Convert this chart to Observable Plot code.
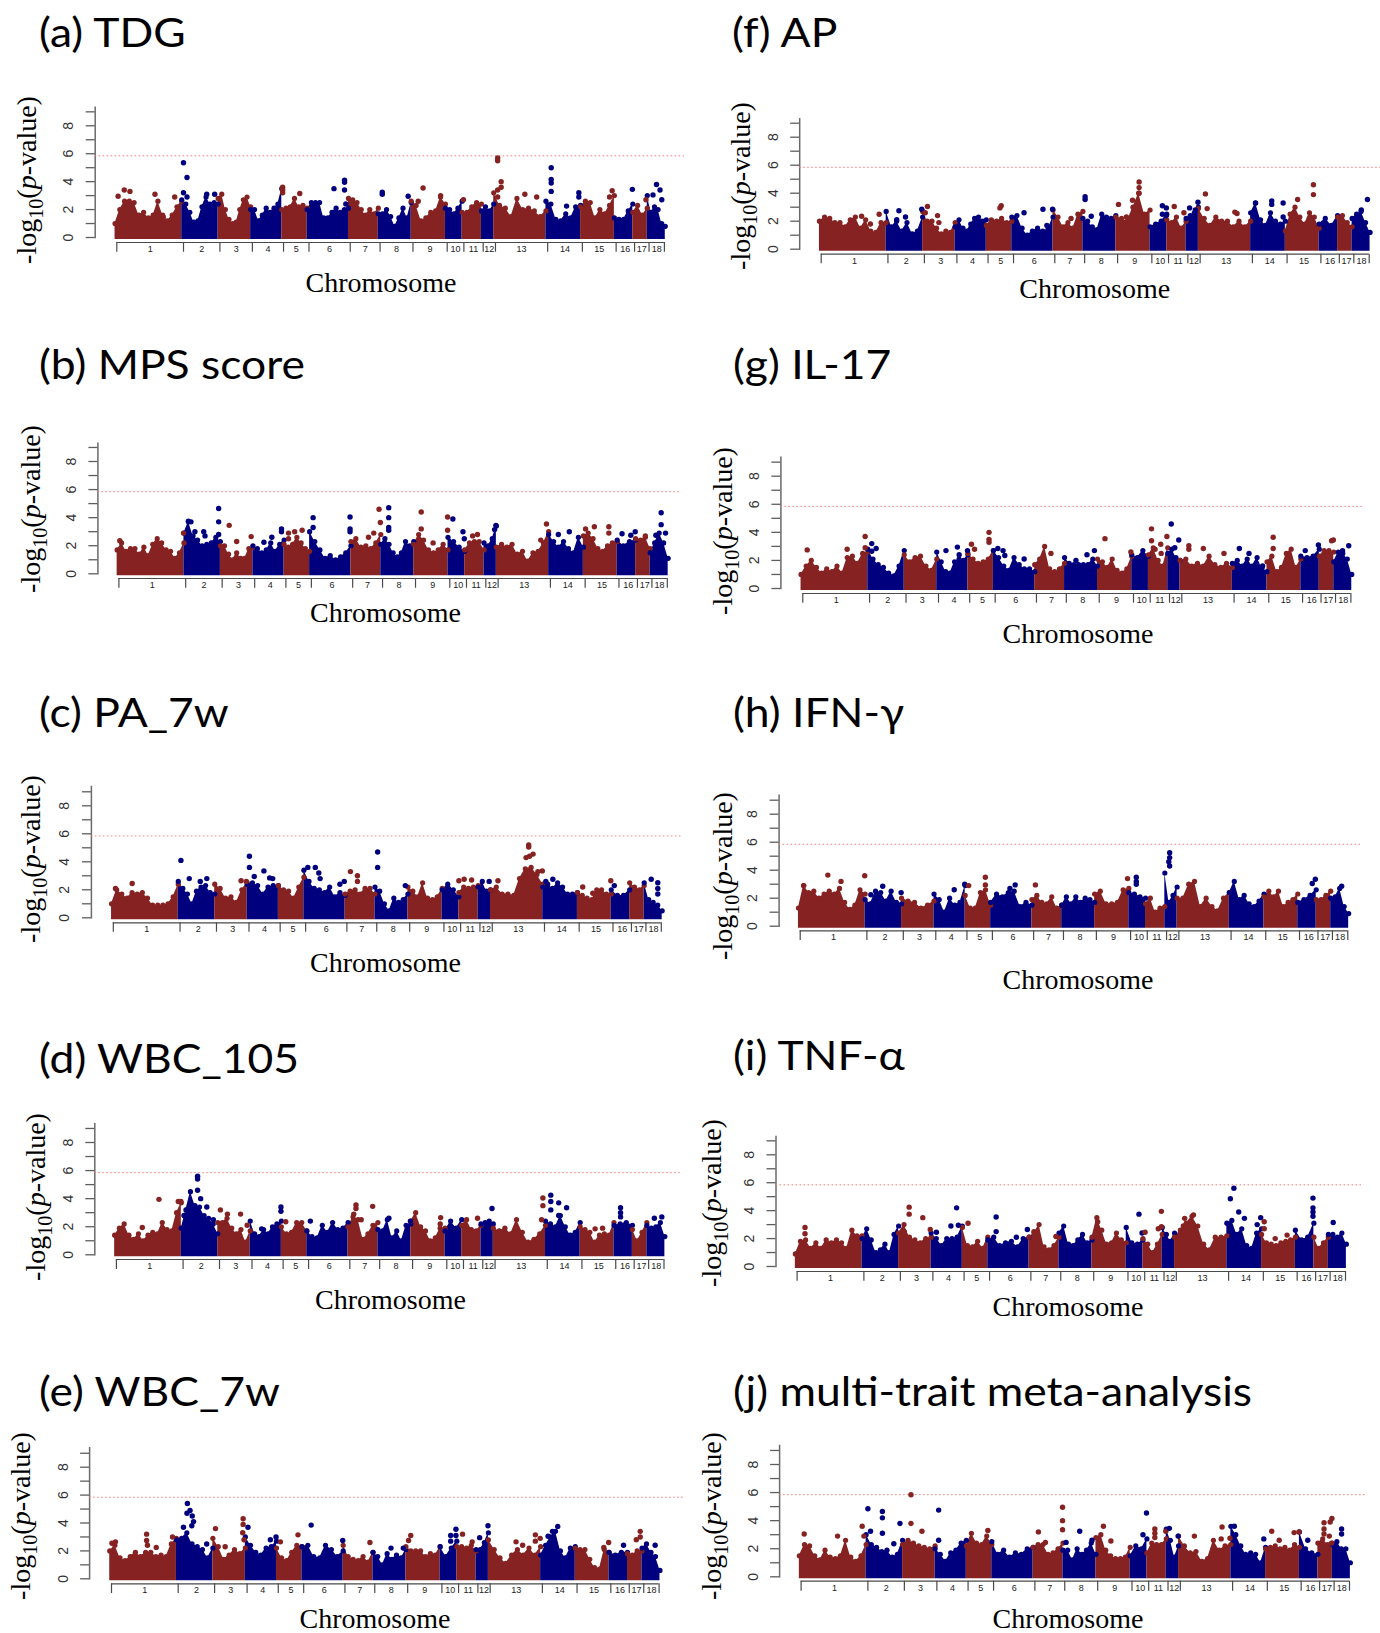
<!DOCTYPE html>
<html><head><meta charset="utf-8">
<script src="https://cdn.jsdelivr.net/npm/d3@7"></script>
<script src="https://cdn.jsdelivr.net/npm/@observablehq/plot@0.6"></script>
<style>
html,body{margin:0;padding:0;background:#fff}
#page{position:relative;width:1380px;height:1633px;overflow:hidden}
#page svg{position:absolute;background:transparent;overflow:visible}
.title{position:absolute;font-family:Lato,sans-serif;font-size:40px;line-height:1;white-space:nowrap;color:#000;transform:scaleX(1.11);transform-origin:left center}
.xlab{position:absolute;font-family:"Liberation Serif",serif;font-size:28px;line-height:1;white-space:nowrap;color:#000;transform:translate(-50%,-50%)}
.ylab{position:absolute;font-family:"Liberation Serif",serif;font-size:28px;line-height:1;white-space:nowrap;color:#000;transform:translate(-50%,-50%) rotate(-90deg)}
.ylab sub{font-size:.72em;line-height:0}
</style></head><body><div id="page"></div>
<script>
const chromNames=["1","2","3","4","5","6","7","8","9","10","11","12","13","14","15","16","17","18"];
const chromEdges=[0,152,235,309,380,438,532,600,675,753,791,835,863,982,1061,1138,1180,1213,1248];
const threshold=5.85;
const tdgProfile=[[1.0,2.0,2.6,2.6,2.5,1.6,1.8,1.4,1.6,2.6,1.6,1.2,1.6,2.2,2.6],[2.7,2.4,1.8,1.1,1.2,2.2,2.9,2.4,2.5,2.4],[2.8,3.1,2.0,1.3,1.0,1.1,2.0,2.7,2.9,2.2],[2.0,2.0,1.2,1.6,2.1,1.8,2.1,2.4,3.5],[2.0,2.1,2.2,2.8,2.2,2.3,2.1],[2.0,2.5,2.5,2.5,1.4,1.4,1.8,2.1,1.8,2.0,2.1],[2.8,2.7,2.5,2.0,1.6,2.0,1.7,2.1],[1.7,1.7,2.0,1.5,0.8,1.4,2.1,1.4,2.5],[2.6,2.3,1.2,1.4,1.8,1.9,2.9,2.4],[2.1,2.0,1.7,2.1,2.6],[1.8,1.8,2.2,2.5,2.4],[1.9,2.2,1.9,2.4],[3.2,2.3,2.1,1.5,2.8,2.0,2.1,1.9,1.5,1.9],[2.6,2.4,1.3,1.2,1.7,1.4,2.2,2.3],[2.2,2.6,2.5,1.4,2.0,1.7,2.3,3.0],[1.4,1.3,1.3,1.9,2.4],[1.8,2.3,1.6,2.1],[3.0,1.8,2.2,2.0,1.0,0.8]];
const tdgPeaks=[[17,3.4],[30,3.3],[3,2.95],[87,3.1],[132,2.9],[106,1.45],[152,5.35],[160,4.3],[152,3.2],[160,2.9],[205,3.1],[223,3.1],[378,3.6],[378,3.4],[378,3.2],[417,3.15],[495,3.5],[519,4.1],[519,3.95],[519,3.4],[522,2.4],[605,3.25],[605,3.1],[664,2.95],[698,3.55],[738,3.0],[687,2.6],[790,2.7],[868,5.7],[868,5.5],[868,3.4],[868,2.9],[876,4.0],[876,3.6],[930,3.1],[957,2.9],[990,5.0],[990,4.15],[990,3.9],[990,3.3],[1053,3.2],[1053,2.9],[1025,2.25],[1129,3.35],[1123,2.9],[1175,3.45],[1206,2.7],[1222,3.05],[1230,3.8],[1238,3.4],[1242,2.7]];
const apProfile=[[2.0,2.3,2.2,1.9,1.9,1.6,2.1,2.3,1.5,2.1,1.3,1.2,1.9,1.9],[2.7,1.6,2.0,1.3,1.9,1.1,1.3,2.3],[2.7,2.0,2.0,1.5,1.1,1.3,1.2,1.9],[1.6,2.1,1.5,1.3,1.8,2.2,2.3,2.0,2.1],[1.7,2.1,2.0,2.2,1.9,2.0],[2.3,2.4,1.5,1.0,1.3,1.5,1.3,1.4,2.3],[2.8,2.3,1.6,1.9,1.5,2.5,2.7],[2.2,2.0,1.6,1.4,2.5,2.3,2.2,2.4],[2.3,2.2,2.0,3.0,4.0,2.5,2.8],[1.6,1.8,2.0,2.5],[2.1,1.9,2.3,1.5,2.0],[2.2,2.4,2.6,3.0],[2.9,2.2,1.7,2.3,2.0,2.0,1.6,2.0,1.6,2.0],[2.6,3.3,2.1,1.7,2.6,2.0,1.8,2.0],[1.3,2.5,3.0,2.3,1.8,2.6,2.3,1.5],[1.8,2.2,1.7,2.4],[2.3,2.4,1.9,1.6],[2.2,2.5,2.7,1.9,1.2]];
const apPeaks=[[132,2.5],[92,2.35],[112,1.8],[177,2.75],[172,2.1],[192,2.3],[229,2.85],[242,3.05],[237,2.6],[265,2.4],[268,1.9],[410,3.1],[407,2.95],[462,2.6],[505,2.85],[527,2.85],[514,1.7],[569,2.2],[601,3.75],[601,3.55],[615,2.35],[724,4.8],[724,4.4],[724,4.0],[677,3.2],[709,3.5],[695,2.3],[777,3.1],[786,2.95],[777,2.5],[786,2.4],[804,3.05],[826,2.6],[839,2.95],[852,2.8],[858,3.35],[875,3.95],[879,2.9],[942,2.65],[947,2.55],[989,3.3],[1026,3.45],[1026,3.2],[1052,3.3],[1052,2.3],[1085,3.55],[1121,4.6],[1121,3.9],[1244,3.55],[1230,2.8]];
const mpsProfile=[[1.7,2.2,1.6,1.8,1.8,1.4,1.9,1.3,2.1,2.5,2.2,1.7,1.6,1.1,1.5,2.2],[2.9,3.7,2.7,2.4,2.0,2.1,2.2,2.6,2.3],[2.0,2.0,1.4,1.0,1.5,1.1,1.1,1.8,1.9],[2.0,1.8,1.5,1.7,2.2,1.6,2.1,2.4],[2.1,1.9,2.1,2.6,2.2,1.8,1.6],[3.0,2.3,1.7,1.1,1.3,1.0,1.2,1.5,2.0],[2.3,2.5,1.9,2.0,1.8,2.2,2.8],[2.1,2.5,2.1,1.5,1.2,1.5,2.3,2.0,2.3],[2.1,2.8,2.4,1.7,1.5,1.7,2.1,1.7],[2.6,2.3,1.9,1.6],[1.7,2.2,2.3,2.3,1.7],[2.2,2.0,2.5,3.4],[1.9,2.1,1.9,2.1,1.4,1.6,0.9,1.5,1.6,2.2,3.0],[2.8,2.3,1.9,2.3,1.8,1.5,2.6,1.9],[2.7,2.9,2.5,1.8,1.6,2.0,2.2,2.3],[2.4,2.0,2.3,2.4],[2.5,2.4,2.6,1.8],[1.5,2.2,2.9,2.2,1.1]];
const mpsPeaks=[[2,2.35],[147,2.9],[158,3.75],[164,3.7],[173,3.0],[193,3.0],[196,2.7],[227,4.65],[227,3.7],[227,2.8],[251,3.45],[268,2.3],[301,2.65],[330,2.25],[348,2.6],[370,3.2],[370,3.0],[386,2.9],[386,2.5],[400,3.0],[417,3.1],[442,4.0],[442,3.3],[526,4.05],[526,3.2],[526,3.0],[592,4.6],[595,3.65],[568,2.6],[580,2.9],[614,4.7],[614,4.0],[614,3.3],[614,3.1],[688,4.4],[688,3.2],[715,2.2],[748,4.05],[748,3.1],[760,3.9],[783,3.0],[786,2.5],[805,2.7],[816,2.8],[855,3.15],[858,3.45],[973,3.55],[960,2.4],[1025,3.0],[1000,2.8],[1062,3.2],[1082,3.35],[1115,3.35],[1115,2.9],[1145,2.85],[1175,3.0],[1165,2.75],[1198,2.7],[1234,4.35],[1234,3.5],[1244,2.9],[1222,2.75]];
const il17Profile=[[1.0,1.6,2.0,1.5,1.1,1.4,1.2,1.6,1.1,2.2,2.3,1.8,2.5,2.6],[2.8,2.1,1.7,1.5,1.1,0.9,1.6,2.7],[2.4,1.9,2.2,2.3,1.6,1.3,2.1],[2.6,1.9,1.2,1.1,1.9,2.1,2.0,2.4],[2.5,2.1,1.8,1.9,2.1,2.7],[2.7,2.2,1.6,1.3,2.2,1.7,1.4,1.4,1.2],[1.7,2.1,3.0,1.4,1.2,1.4,1.8],[2.2,1.8,1.7,1.7,1.7,1.7,2.1,1.6],[2.1,1.9,1.5,2.1,1.3,1.1,1.4,2.3],[2.4,2.2,2.7,2.3],[2.4,2.9,2.0,1.6,2.9],[2.5,2.8,2.2,2.0],[2.0,2.1,1.6,1.8,1.6,2.3,1.7,1.5,1.8,1.5],[1.8,2.0,1.6,2.1,1.6,2.2,1.4,1.2],[1.9,2.3,1.2,1.5,2.5,2.8,1.5,2.1],[2.3,2.2,2.3,2.8],[2.3,2.7,2.7,2.6],[1.9,2.6,2.5,2.1,1.0]];
const il17Peaks=[[10,2.75],[101,2.8],[142,3.7],[142,2.9],[157,3.2],[157,2.65],[167,2.85],[326,2.7],[352,2.95],[356,2.4],[375,2.7],[384,3.15],[391,2.8],[424,4.0],[424,3.5],[424,3.3],[444,2.85],[456,2.7],[460,2.35],[504,2.1],[565,2.5],[664,2.7],[647,2.4],[622,2.0],[688,3.55],[747,2.6],[794,4.25],[794,3.4],[815,3.15],[829,3.7],[802,2.8],[816,2.5],[839,4.6],[856,3.45],[847,2.9],[879,3.05],[879,2.8],[912,2.85],[959,2.5],[994,2.85],[1016,2.5],[1047,1.6],[1071,3.65],[1071,2.85],[1144,2.7],[1174,3.1],[1208,3.45],[1204,3.4],[1243,3.05],[1229,2.7]];
const paProfile=[[1.0,2.0,1.7,1.4,1.8,1.7,1.8,1.4,0.9,0.9,0.9,1.0,1.5,2.4],[2.6,2.1,1.7,1.0,1.9,2.2,2.3,1.8,1.7],[2.4,2.1,1.4,1.5,1.1,2.0,2.5],[2.4,2.5,2.3,1.7,2.2,2.3,2.3],[2.3,2.0,1.9,1.4,2.2,2.9],[3.4,2.6,2.1,2.0,1.8,2.2,1.5,1.8,1.6],[1.7,1.9,2.0,1.7,2.1,2.1,1.7],[2.2,1.9,1.0,0.5,1.4,1.1,1.3,1.7],[2.2,1.9,1.5,2.5,1.4,1.3,1.5,2.1],[2.0,2.4,2.0,1.5],[1.8,2.2,2.1,2.2,2.3],[2.2,2.6,1.9,2.0],[2.0,2.2,1.7,1.7,1.6,2.8,3.5,3.6,3.1,2.4],[2.2,2.4,2.1,2.5,2.2,1.7,1.7,1.8],[1.8,1.6,1.4,1.3,2.0,2.0,1.7,1.7],[2.0,1.6,1.6,2.0],[2.5,2.2,2.0,2.3],[2.5,1.3,1.1,0.9,0.5]];
const paPeaks=[[43,2.45],[5,2.1],[154,4.1],[173,2.8],[198,2.6],[213,2.8],[291,2.65],[303,2.6],[310,4.4],[310,3.6],[321,2.95],[343,3.35],[356,2.85],[363,2.8],[443,3.6],[460,3.6],[468,3.2],[471,2.8],[526,2.6],[516,2.4],[540,3.3],[556,3.0],[556,2.6],[602,4.7],[602,3.6],[665,2.3],[787,2.65],[763,2.1],[799,2.75],[816,2.7],[856,2.6],[946,5.2],[946,5.05],[940,4.3],[956,4.55],[948,4.4],[977,3.35],[967,3.3],[876,2.65],[1001,2.75],[985,2.6],[1069,2.2],[1092,1.75],[1133,2.65],[1141,2.3],[1225,2.75],[1240,2.5],[1240,2.1],[1240,1.7]];
const ifnProfile=[[1.3,2.9,2.4,2.5,2.0,2.3,2.5,2.3,2.7,1.7,1.2,1.5,2.6,2.3],[1.9,1.6,2.5,2.4,1.8,2.5,1.7,1.6],[2.0,1.8,1.7,1.3,1.5,1.8],[2.3,1.9,1.0,2.0,1.5,1.7,2.9],[2.2,1.3,1.3,2.4,2.6,1.5],[1.7,2.3,2.1,2.4,2.5,1.4,1.7,1.5],[1.9,2.2,1.7,1.6,2.1,1.3,1.5],[1.5,2.1,1.6,2.1,1.7,2.0,1.9,1.7],[2.3,2.5,1.6,1.6,1.7,2.6,2.7],[2.4,2.3,2.1,2.0],[1.6,2.0,1.0,1.3,1.4],[3.8,1.7,2.2,2.8],[2.0,2.0,3.0,3.2,1.4,2.0,1.4,1.1,2.0,2.4],[2.4,3.2,1.9,2.2,1.6,1.4,1.8,2.3],[2.1,2.5,2.1,2.5,1.4,1.7,1.9,2.3],[1.7,1.9,2.2,2.6],[1.9,1.9,2.2,2.5],[2.0,2.1,2.7,1.4,0.9]];
const ifnPeaks=[[63,3.65],[147,3.6],[93,3.2],[8,2.9],[161,2.25],[188,2.85],[230,2.4],[351,2.6],[375,3.0],[384,2.9],[422,3.5],[422,2.95],[478,2.7],[490,2.95],[536,2.95],[746,3.4],[766,3.5],[766,3.2],[766,3.0],[842,5.25],[842,4.9],[840,4.6],[842,4.3],[1174,3.35],[1167,3.05],[1234,2.85]];
const wbc105Profile=[[1.4,1.9,2.2,1.4,1.1,1.5,1.0,1.4,1.6,1.5,2.3,1.8,1.7,3.0,3.7],[1.9,3.2,4.5,3.5,3.4,2.8,2.6,2.2,1.5],[2.3,2.3,2.6,1.9,1.5,1.8,0.9,1.7],[2.4,1.5,1.3,1.8,1.5,2.0,2.2,2.4],[2.0,1.5,1.6,2.3,2.3,1.7],[1.7,1.3,1.2,2.1,1.6,2.3,1.8,1.9,2.3],[2.0,2.7,2.5,1.1,1.5,2.1,2.3],[1.8,1.7,2.5,1.2,1.7,1.0,2.1,2.2],[2.4,3.0,2.0,1.7,1.0,1.2,1.9,1.9],[1.7,2.4,1.9,2.5],[2.1,2.5,1.8,1.7,2.1],[2.2,2.3,2.4,2.2],[1.9,1.7,1.9,1.5,2.5,1.6,0.9,1.1,1.5,2.1],[2.4,2.2,2.0,2.8,2.0,1.4,1.6,2.3],[2.0,1.8,1.6,0.9,1.4,1.5,1.4,2.3],[2.1,2.2,2.3,2.1],[1.8,1.0,1.6,2.3],[2.1,1.9,2.0,2.3,1.3]];
const wbc105Peaks=[[97,3.95],[59,1.95],[141,3.8],[147,3.8],[185,5.6],[185,5.4],[185,4.6],[192,4.0],[161,3.2],[206,3.4],[154,2.8],[221,2.5],[237,3.2],[253,2.9],[283,2.9],[298,2.1],[375,3.4],[375,3.1],[331,1.85],[386,2.35],[442,2.4],[546,3.55],[546,3.3],[584,3.45],[541,2.9],[558,2.5],[621,2.6],[670,2.4],[739,2.65],[738,2.2],[823,2.6],[856,3.3],[972,4.05],[972,3.5],[969,2.5],[990,4.25],[990,3.8],[990,3.2],[1008,3.7],[1008,2.8],[1026,3.35],[1091,1.85],[1108,1.9],[1149,3.35],[1149,3.0],[1149,2.7],[1243,2.7],[1226,2.6]];
const tnfProfile=[[0.9,1.8,1.9,1.3,1.7,1.3,1.9,1.7,1.9,1.7,1.3,2.6,2.2,2.2],[2.0,2.7,1.9,1.0,1.2,1.6,1.0,2.3,2.9],[2.4,3.0,2.1,1.9,1.7,2.0,2.1],[2.4,2.0,1.5,2.0,2.0,2.1,2.9],[2.8,1.5,1.4,1.8,1.3,2.1],[1.9,2.1,1.5,1.7,1.8,1.4,2.0,2.1],[2.1,2.4,3.0,1.4,1.2,1.5,2.1],[2.4,2.9,1.6,1.5,1.9,2.3,1.7,1.9],[2.1,3.5,2.6,1.6,1.7,2.4,1.9,1.7],[2.8,1.7,1.6,1.9],[2.0,1.6,1.0,1.6,2.3],[2.8,2.3,1.8,2.4],[2.1,2.6,3.1,3.6,2.9,1.6,1.2,2.1,2.1,2.2],[3.1,3.3,2.3,2.7,1.5,1.3,2.4,2.7],[2.3,1.7,1.6,1.5,1.7,1.8,1.9,2.1],[2.6,1.9,2.1,3.1],[2.1,1.3,1.7,2.1],[2.3,2.3,2.1,2.4,1.6]];
const tnfPeaks=[[18,2.8],[18,2.35],[255,4.25],[255,3.75],[286,3.5],[244,2.5],[303,2.65],[363,4.2],[350,2.9],[367,2.95],[317,2.45],[389,3.1],[453,3.55],[453,2.5],[524,2.65],[499,2.1],[539,2.5],[589,2.15],[684,3.2],[778,3.75],[785,2.4],[829,3.95],[829,2.85],[792,2.45],[822,2.7],[882,3.45],[902,3.7],[879,2.9],[994,5.6],[986,4.85],[1005,3.9],[1018,3.45],[1047,3.0],[1055,3.5],[1063,3.2],[1063,2.7],[1088,2.0],[1115,2.25],[1174,4.9],[1174,4.2],[1174,3.9],[1174,3.6],[1220,3.15]];
const wbc7Profile=[[2.0,2.4,1.5,1.3,1.6,1.9,1.6,1.9,1.9,1.6,1.7,1.6,2.5,2.9],[2.8,2.9,3.3,2.5,2.3,2.1,1.5,2.2],[2.9,2.3,1.4,1.7,2.1,1.8,2.2],[3.0,2.4,1.9,1.7,2.2,2.3,2.7],[2.2,1.5,1.3,1.9,2.4,2.3],[2.3,2.4,1.6,1.5,2.4,2.1,1.6,2.0],[2.4,1.6,1.4,1.3,1.6,1.2,1.9],[1.9,1.6,1.0,1.8,1.4,1.7,1.5,2.1],[2.3,2.0,2.0,2.0,1.6,1.8,1.7,2.3],[2.3,1.6,2.2,2.7],[2.3,2.3,2.2,2.4,2.0],[2.1,2.1,2.6,3.3],[2.8,2.1,1.5,1.1,1.7,2.1,1.7,2.2,1.7,2.3],[1.7,2.4,3.0,3.4,2.0,1.5,2.2,2.3],[2.2,2.1,2.1,1.4,0.8,0.7,2.1,1.9],[1.9,1.7,1.9,1.9],[1.8,1.7,2.0,2.0],[2.2,2.5,1.9,1.6,0.6]];
const wbc7Peaks=[[9,2.65],[80,3.2],[80,2.75],[82,2.4],[102,2.25],[139,3.0],[1,2.55],[173,5.4],[179,4.9],[172,4.7],[184,4.5],[187,4.1],[183,3.8],[164,3.7],[217,2.5],[300,4.3],[300,3.9],[299,3.3],[302,2.8],[237,3.6],[259,2.3],[311,3.7],[362,2.8],[375,3.0],[425,3.15],[385,2.65],[455,3.85],[527,2.75],[589,2.6],[637,2.2],[665,2.2],[682,3.1],[677,2.75],[785,3.55],[785,3.1],[773,3.1],[773,2.7],[800,3.2],[822,2.65],[858,3.8],[839,2.95],[966,3.15],[966,2.7],[922,2.65],[937,2.4],[977,2.9],[1017,3.75],[1005,3.4],[995,3.05],[1133,2.6],[1122,2.25],[1167,2.4],[1205,3.4],[1205,3.0],[1196,2.8],[1239,2.4]];
const metaProfile=[[1.5,2.3,2.2,1.5,1.2,1.9,1.4,1.3,1.5,2.6,1.4,1.1,1.5,2.3],[3.0,2.3,2.1,1.8,1.9,1.4,1.6,2.6],[2.3,2.6,2.4,2.2,2.1,2.0,2.2],[2.0,1.6,1.1,1.7,1.9,2.4,2.6],[2.2,3.1,2.4,2.3,2.9,2.3],[2.5,1.6,1.9,1.4,1.7,1.6,2.0,2.1],[2.1,2.3,2.3,1.6,1.7,2.0,2.4],[1.9,1.9,1.2,2.0,1.6,1.9,2.4,1.6],[2.8,3.0,1.9,1.5,1.3,1.3,1.4,2.1],[1.5,2.2,2.0,2.7],[1.7,2.4,2.3,2.3,2.7],[3.4,2.6,1.4,2.2],[2.9,2.2,1.7,1.8,1.1,1.3,2.6,1.9,2.2,2.3],[3.6,3.0,2.2,1.6,1.7,1.6,1.0,2.1],[2.0,2.1,2.2,2.0,2.1,1.9,2.3,2.1],[3.2,2.0,1.7,1.6],[2.4,2.7,2.3,2.4],[2.3,2.5,2.0,2.0,1.0]];
const metaPeaks=[[7,3.05],[83,2.9],[139,3.6],[143,2.9],[152,4.85],[185,4.65],[185,4.2],[185,3.1],[225,3.8],[158,3.25],[211,2.35],[250,5.85],[250,3.8],[275,3.25],[313,4.75],[313,2.6],[425,3.3],[540,3.2],[595,4.95],[595,4.0],[595,3.35],[556,2.45],[634,3.25],[662,2.6],[603,2.45],[688,3.6],[705,2.55],[786,4.55],[778,3.0],[805,3.4],[805,3.1],[805,2.8],[830,3.25],[838,3.45],[858,2.9],[895,2.9],[958,3.55],[956,2.7],[976,2.75],[986,3.6],[1053,2.7],[1071,3.25],[1122,3.15],[1133,3.2],[1088,2.6],[1153,2.6],[1190,3.85],[1190,3.4],[1190,3.05],[1208,4.15],[1204,3.9],[1202,2.9],[1207,2.4],[1230,3.4],[1230,3.05]];

const RED="#872222",NAVY="#00007f",SHIFT=-4;
const layouts=[
 {title:"(a) TDG",profile:tdgProfile,peaks:tdgPeaks,col:0,x0:116.3,x1:663.9,ax:94.7,y0:237,y8:125.3,top:106.7,thr:155.3,ln:242,tb:251.7,tl:248.7,right:684,lx:381,ly:283.3,yx:26.5,yy:179.5,tx:38.5,tb0:46.7},
 {title:"(b) MPS score",profile:mpsProfile,peaks:mpsPeaks,col:0,x0:118.4,x1:666.8,ax:97.4,y0:573.3,y8:461,top:442.7,thr:490.7,ln:578,tb:587.7,tl:585,right:680,lx:385.5,ly:612.7,yx:31,yy:509.3,tx:38.5,tb0:379},
 {title:"(c) PA_7w",profile:paProfile,peaks:paPeaks,col:0,x0:112.8,x1:660.8,ax:90.9,y0:917.3,y8:805.3,top:786,thr:835.3,ln:922.3,tb:931.7,tl:929,right:682,lx:385.5,ly:963.3,yx:31,yy:859.3,tx:38.5,tb0:726.7},
 {title:"(d) WBC_105",profile:wbc105Profile,peaks:wbc105Peaks,col:0,x0:115.9,x1:663.5,ax:94.3,y0:1254.3,y8:1142,top:1123.3,thr:1172,ln:1259,tb:1269,tl:1266,right:681,lx:390.5,ly:1300,yx:36,yy:1197,tx:38.5,tb0:1073.3},
 {title:"(e) WBC_7w",profile:wbc7Profile,peaks:wbc7Peaks,col:0,x0:111,x1:658.6,ax:89.1,y0:1578.3,y8:1466.7,top:1447.3,thr:1496.3,ln:1583.3,tb:1593,tl:1590,right:683,lx:375,ly:1619,yx:20.6,yy:1516,tx:38.5,tb0:1405.7},
 {title:"(f) AP",profile:apProfile,peaks:apPeaks,col:690,x0:820.7,x1:1368.7,ax:799.2,y0:248.7,y8:136.7,top:118.3,thr:166.3,ln:253.7,tb:263.3,tl:260.5,right:1380,lx:1094.7,ly:289.3,yx:740.5,yy:186,tx:731.5,tb0:46.7},
 {title:"(g) IL-17",profile:il17Profile,peaks:il17Peaks,col:690,x0:802.3,x1:1350.4,ax:780.4,y0:588,y8:475.7,top:456.7,thr:505,ln:593,tb:602.7,tl:600,right:1362,lx:1078,ly:634,yx:722.9,yy:530.5,tx:732.5,tb0:379},
 {title:"(h) IFN-γ",profile:ifnProfile,peaks:ifnPeaks,col:690,x0:799.7,x1:1347.3,ax:778.6,y0:925.7,y8:813.7,top:794.7,thr:843.7,ln:930.3,tb:940,tl:937,right:1362,lx:1078,ly:980,yx:722.7,yy:876,tx:732.5,tb0:726.7},
 {title:"(i) TNF-α",profile:tnfProfile,peaks:tnfPeaks,col:690,x0:796.6,x1:1345,ax:775.5,y0:1266,y8:1154.3,top:1136,thr:1184,ln:1271,tb:1280.7,tl:1278,right:1362,lx:1068,ly:1306.7,yx:711.8,yy:1203.3,tx:732.5,tb0:1070},
 {title:"(j) multi-trait meta-analysis",profile:metaProfile,peaks:metaPeaks,col:690,x0:800.6,x1:1349,ax:779.1,y0:1576.3,y8:1464,top:1445,thr:1493.3,ln:1580.7,tb:1590.7,tl:1588,right:1365,lx:1068,ly:1619,yx:711.8,yy:1516,tx:732.5,tb0:1405.7}
];
const page=document.getElementById("page");
const chromAt=p=>{let i=0;while(i<17&&p>=chromEdges[i+1]+SHIFT)i++;return i;};
const colorOf=i=>i%2===0?RED:NAVY;

for(const L of layouts){
  const W=690,topPx=Math.floor(L.top)-6,H=Math.ceil(L.tb)-topPx+6;
  const unit=(L.y0-L.y8)/8, toVal=py=>(L.y0-py)/unit;
  const rows=[];
  L.profile.forEach((vals,c)=>{
    const a=chromEdges[c]+SHIFT,b=(c===17?chromEdges[18]+2:chromEdges[c+1]+SHIFT);
    vals.forEach((v,i)=>rows.push({c,x:a+(b-a)*i/(vals.length-1),v}));
  });
  const peaks=L.peaks.map(([x,v])=>({x,v,c:chromAt(x)}));
  const mids=chromNames.map((n,i)=>({n,x:(chromEdges[i]+chromEdges[i+1])/2}));
  const base=toVal(L.y0+2);
  const svg=Plot.plot({
    width:W,height:H,
    marginLeft:L.ax-L.col,marginRight:W-(L.right-L.col),marginTop:L.top-topPx,marginBottom:H-(L.y0-topPx),
    style:{background:"transparent",overflow:"visible"},
    x:{axis:null,domain:[0,1248],range:[L.x0-L.col,L.x1-L.col]},
    y:{domain:[0,8],range:[L.y0-topPx,L.y8-topPx]},
    marks:[
      Plot.frame({anchor:"left",stroke:"#6a6a6a",strokeWidth:1.5}),
      Plot.axisY({anchor:"left",ticks:[0,1,2,3,4,5,6,7,8,9],tickSize:9,tickPadding:13,tickRotate:-90,
        tickFormat:d=>d%2?"":String(d),label:null,fontSize:14,fontFamily:"Liberation Sans",stroke:"#5e5e5e",strokeWidth:1.3,color:"#333",fill:"#333"}),
      Plot.ruleY([threshold],{stroke:"#f77",strokeWidth:1,strokeDasharray:"1.5,2.5"}),
      Plot.areaY(rows,{x:"x",y1:base,y2:"v",z:"c",fill:d=>colorOf(d.c),curve:"linear"}),
      Plot.dot(rows,{x:"x",y:"v",r:2.6,fill:d=>colorOf(d.c)}),
      Plot.dot(peaks,{x:"x",y:"v",r:2.7,fill:d=>colorOf(d.c)}),
      Plot.ruleY([toVal(L.ln)],{x1:0,x2:1248,stroke:"#4a4a4a",strokeWidth:1.2}),
      Plot.ruleX(chromEdges,{y1:toVal(L.ln),y2:toVal(L.tb),stroke:"#4a4a4a",strokeWidth:1.2}),
      Plot.text(mids,{x:"x",y:toVal(L.tl),text:"n",fontSize:9,fontFamily:"Liberation Sans",fill:"#222"})
    ]
  });
  svg.style.left=L.col+"px";svg.style.top=topPx+"px";
  page.appendChild(svg);

  const t=document.createElement("div");t.className="title";t.textContent=L.title;
  t.style.left=L.tx+"px";t.style.top=(L.tb0-35)+"px";page.appendChild(t);
  const x=document.createElement("div");x.className="xlab";x.textContent="Chromosome";
  x.style.left=L.lx+"px";x.style.top=L.ly+"px";page.appendChild(x);
  const y=document.createElement("div");y.className="ylab";y.innerHTML='-log<sub>10</sub>(<i>p</i>-value)';
  y.style.left=L.yx+"px";y.style.top=L.yy+"px";page.appendChild(y);
}
</script></body></html>
